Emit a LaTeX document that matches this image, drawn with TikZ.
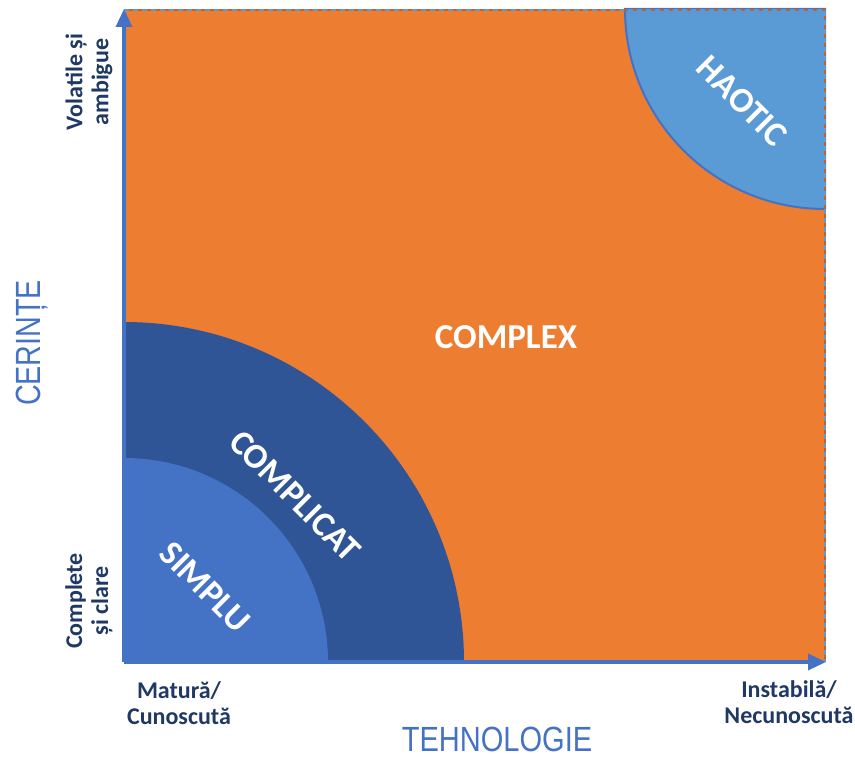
\documentclass[tikz,border=0pt]{standalone}
\usepackage{fontspec}
\usepackage{graphicx}
\setmainfont{Carlito}
\newfontfamily\narrowfont{Liberation Sans}
\usetikzlibrary{arrows.meta}
\definecolor{cOrange}{HTML}{ED7D31}
\definecolor{cOrangeDk}{HTML}{C5622A}
\definecolor{cDark}{HTML}{2F5597}
\definecolor{cMid}{HTML}{4472C4}
\definecolor{cLight}{HTML}{5B9BD5}
\definecolor{cNavy}{HTML}{1F3864}
\tikzset{
  zonelabel/.style={text=white, font=\fontsize{35}{40}\selectfont\bfseries, inner sep=0pt},
  axislabel/.style={text=cNavy, font=\fontsize{24}{26}\selectfont\bfseries, align=center, inner sep=0pt},
  axistitle/.style={text=cMid, font=\narrowfont\fontsize{35}{40}\selectfont, inner sep=0pt},
  axisarrow/.style={draw=cMid, line width=3.5pt, -{Triangle[width=16pt,length=18pt]}},
}
\begin{document}
\begin{tikzpicture}[x=1pt,y=1pt]
\useasboundingbox (0,0) rectangle (855,756);
% background quadrants
\fill[cOrange] (124,94) rectangle (825,747);
\fill[cDark] (124,94) -- (464,94) arc[start angle=0,end angle=90,radius=340] -- cycle;
\fill[cMid] (124,94) -- (328,94) arc[start angle=0,end angle=90,radius=204] -- cycle;
\filldraw[fill=cLight, draw=cMid, line width=2pt] (825,747) -- (625,747) arc[start angle=180,end angle=270,radius=200] -- cycle;
% dashed border
\draw[cOrangeDk, line width=2pt] (124,746) -- (825,746) -- (825,94);
\draw[cLight, line width=2pt, dash pattern=on 5pt off 4pt] (124,746) -- (825,746) -- (825,94);
% axes
\coordinate (O) at (124,94);
\coordinate (ytip) at (124,747);
\coordinate (xtip) at (826,94);
\draw[axisarrow] (O) -- (ytip);
\draw[axisarrow] (O) -- (xtip);
% zone labels
\node[zonelabel] (complex) at (506,419) {COMPLEX};
\node[zonelabel, rotate=-45] (complicat) at (295,260) {COMPLICAT};
\node[zonelabel, rotate=-45] (simplu) at (205,169) {SIMPLU};
\node[zonelabel, rotate=-45] (haotic) at (742,655) {HAOTIC};
% axis labels
\node[axislabel] (matura) at (179,53) {Matură/\\Cunoscută};
\node[axislabel] (instabila) at (789,54) {Instabilă/\\Necunoscută};
\node[axislabel, rotate=90] (volatile) at (89,674) {Volatile și\\ambigue};
\node[axislabel, rotate=90] (complete) at (89,155) {Complete\\și clare};
\node[axistitle, anchor=base] (tehno) at (497,5) {\scalebox{0.83}[1]{TEHNOLOGIE}};
\node[axistitle, anchor=base, rotate=90] (cerinte) at (40,413) {\scalebox{0.82}[1]{CERINȚE}};
\end{tikzpicture}
\end{document}
